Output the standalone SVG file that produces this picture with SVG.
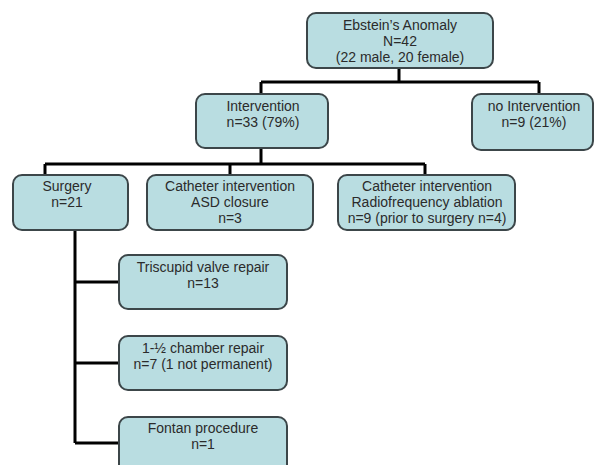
<svg xmlns="http://www.w3.org/2000/svg" width="595" height="465" viewBox="0 0 595 465">
<style>
.box{fill:#b9dde1;stroke:#3c4649;stroke-width:2}
.t{font-family:"Liberation Sans",Arial,sans-serif;font-size:14px;fill:#2b2b2b;text-anchor:middle}
.c{fill:none;stroke:#000;stroke-width:3}
</style>
<rect width="595" height="465" fill="#fff"/>
<g id="connectors">
<path class="c" d="M399,68V82M261,82H539M261,82V94M539,82V94"/>
<path class="c" d="M261,148V164M45,164H425M45,164V175M230,164V175M425,164V175"/>
<path class="c" d="M75,230V443M75,282H119M75,363H119M75,443H119"/>
</g>
<g id="ebstein">
<rect class="box" x="307" y="13" width="186" height="55" rx="9"/>
<text class="t" x="400" y="30">Ebstein’s Anomaly</text>
<text class="t" x="400" y="46">N=42</text>
<text class="t" x="400" y="62">(22 male, 20 female)</text>
</g>
<g id="intervention">
<rect class="box" x="196" y="94" width="132" height="54" rx="9"/>
<text class="t" x="263" y="111">Intervention</text>
<text class="t" x="263" y="127">n=33 (79%)</text>
</g>
<g id="no-intervention">
<rect class="box" x="472" y="94" width="121" height="56" rx="9"/>
<text class="t" x="534" y="111">no Intervention</text>
<text class="t" x="534" y="127">n=9 (21%)</text>
</g>
<g id="surgery">
<rect class="box" x="13" y="175" width="115" height="55" rx="9"/>
<text class="t" x="67" y="191">Surgery</text>
<text class="t" x="67" y="207">n=21</text>
</g>
<g id="asd">
<rect class="box" x="147" y="175" width="166" height="55" rx="9"/>
<text class="t" x="230" y="191">Catheter intervention</text>
<text class="t" x="230" y="207">ASD closure</text>
<text class="t" x="230" y="223">n=3</text>
</g>
<g id="rf">
<rect class="box" x="338" y="175" width="177" height="55" rx="9"/>
<text class="t" x="427" y="191">Catheter intervention</text>
<text class="t" x="427" y="207">Radiofrequency ablation</text>
<text class="t" x="427" y="223">n=9 (prior to surgery n=4)</text>
</g>
<g id="tricuspid">
<rect class="box" x="119" y="255" width="168" height="54" rx="9"/>
<text class="t" x="203" y="272">Triscupid valve repair</text>
<text class="t" x="203" y="288">n=13</text>
</g>
<g id="chamber">
<rect class="box" x="119" y="336" width="168" height="54" rx="9"/>
<text class="t" x="203" y="353">1-½ chamber repair</text>
<text class="t" x="203" y="369">n=7 (1 not permanent)</text>
</g>
<g id="fontan">
<rect class="box" x="119" y="417" width="168" height="56" rx="9"/>
<text class="t" x="203" y="433">Fontan procedure</text>
<text class="t" x="203" y="449">n=1</text>
</g>
</svg>
